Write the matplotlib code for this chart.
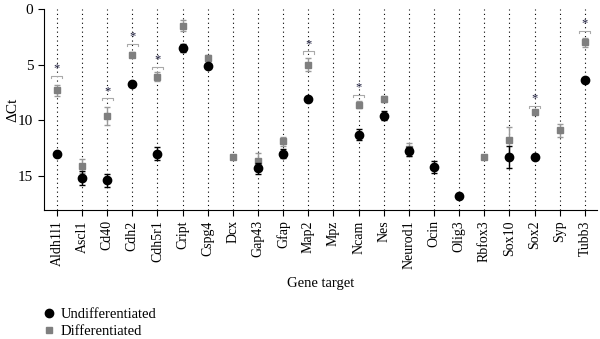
import numpy as np
import matplotlib.pyplot as plt
from matplotlib.lines import Line2D

plt.rcParams['font.family'] = ['Liberation Serif', 'DejaVu Serif']

genes = ["Aldh1l1", "Ascl1", "Cd40", "Cdh2", "Cdh5r1", "Cript", "Cspg4", "Dcx",
         "Gap43", "Gfap", "Map2", "Mpz", "Ncam", "Nes", "Neurod1", "Ocin",
         "Olig3", "Rbfox3", "Sox10", "Sox2", "Syp", "Tubb3"]
nan = np.nan
undiff = [13.0, 15.2, 15.4, 6.7, 13.0, 3.5, 5.1, nan, 14.3, 13.0, 8.1, nan,
          11.3, 9.6, 12.8, 14.2, 16.8, nan, 13.3, 13.3, nan, 6.4]
undiff_err = [0.0, 0.6, 0.6, 0.0, 0.6, 0.4, 0.0, 0.0, 0.5, 0.4, 0.0, 0.0,
              0.5, 0.4, 0.4, 0.5, 0.0, 0.0, 1.0, 0.0, 0.0, 0.0]
diff = [7.3, 14.1, 9.6, 4.1, 6.1, 1.5, 4.4, 13.3, 13.7, 11.9, 5.0, nan,
        8.6, 8.1, 12.6, nan, nan, 13.3, 11.8, 9.3, 10.9, 3.0]
diff_err = [0.5, 0.6, 0.8, 0.2, 0.4, 0.5, 0.3, 0.0, 0.8, 0.4, 0.6, 0.0,
            0.3, 0.3, 0.6, 0.0, 0.0, 0.0, 1.2, 0.0, 0.6, 0.4]
# significant genes and height of their bracket
sig_genes = ["Aldh1l1", "Cd40", "Cdh2", "Cdh5r1", "Map2", "Ncam", "Sox2", "Tubb3"]
sig_y = [6.0, 8.0, 3.1, 5.2, 3.8, 7.7, 8.7, 1.95]

x = np.arange(len(genes))

fig = plt.figure(figsize=(6, 3.39), dpi=100)
ax = fig.add_axes([0.073, 0.381, 0.922, 0.592])

for xi in x:
    ax.axvline(xi, color='black', lw=0.8, ls=(0, (1, 3)), zorder=0)

ax.errorbar(x, diff, yerr=diff_err, fmt='s', color='#7f7f7f', ms=5,
            ecolor='#9a9a9a', elinewidth=1, capsize=2.5, zorder=3)
ax.errorbar(x, undiff, yerr=undiff_err, fmt='o', color='black', ms=6,
            ecolor='black', elinewidth=1, capsize=2.5, zorder=4)

for g, yb in zip(sig_genes, sig_y):
    xi = genes.index(g)
    ax.plot([xi - 0.22, xi - 0.22, xi + 0.22, xi + 0.22],
            [yb + 0.2, yb, yb, yb + 0.2], color='#aaaaaa', lw=0.8, zorder=2)
    ax.text(xi, yb - 0.1, '*', ha='center', va='bottom', fontsize=9,
            color='#1a1a3a', zorder=5)

ax.set_xlim(-0.52, 21.48)
ax.set_ylim(18.06, 0)
ax.set_yticks([0, 5, 10, 15])
ax.set_xticks(x)
ax.set_xticklabels(genes, rotation=90, fontsize=10)
ax.tick_params(axis='y', labelsize=11, length=4, direction='out')
ax.tick_params(axis='x', length=4, direction='out')
ax.spines['top'].set_visible(False)
ax.spines['right'].set_visible(False)
fig.text(0.021, 0.676, 'ΔCt', rotation=90, ha='center', va='center', fontsize=11)
ax.set_xlabel('Gene target', fontsize=10.5, labelpad=6)

handles = [Line2D([], [], ls='none', marker='o', color='black', ms=6),
           Line2D([], [], ls='none', marker='s', color='#7f7f7f', ms=5)]
fig.legend(handles, ['Undifferentiated', 'Differentiated'], loc='upper left',
           bbox_to_anchor=(0.06, 0.11), frameon=False, fontsize=10.5,
           handletextpad=0.3, borderaxespad=0, labelspacing=0.25,
           handlelength=1.0)

fig.savefig('out.png', dpi=100)
